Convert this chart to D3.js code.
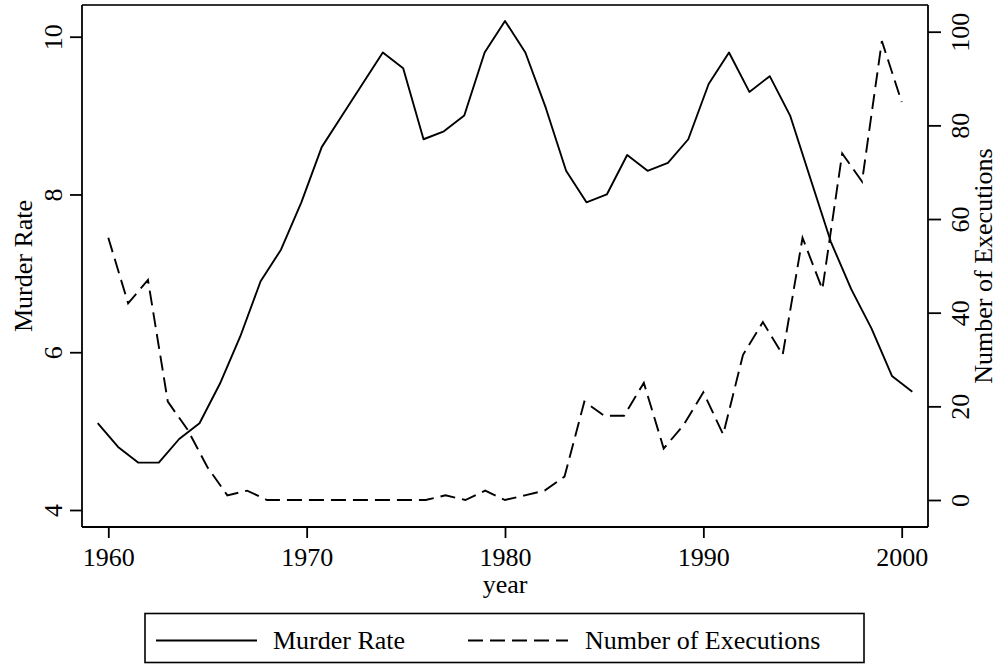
<!DOCTYPE html>
<html>
<head>
    <meta charset="utf-8">
    <title>Murder Rate and Executions</title>
    <style>
        body { margin: 0; background: #fff; }
        text { font-family: "Liberation Serif", "Times New Roman", serif; fill: #000; }
        .axis path, .axis line { stroke: #000; stroke-width: 1.8; }
    </style>
    <script src="https://cdn.jsdelivr.net/npm/d3@7"></script>
</head>
<body>
<script>
    // data
    var years = d3.range(1960, 2001);
    var murderRate = [5.1, 4.8, 4.6, 4.6, 4.9, 5.1, 5.6, 6.2, 6.9, 7.3,
        7.9, 8.6, 9.0, 9.4, 9.8, 9.6, 8.7, 8.8, 9.0, 9.8,
        10.2, 9.8, 9.1, 8.3, 7.9, 8.0, 8.5, 8.3, 8.4, 8.7,
        9.4, 9.8, 9.3, 9.5, 9.0, 8.2, 7.4, 6.8, 6.3, 5.7, 5.5];
    var executions = [56, 42, 47, 21, 15, 7, 1, 2, 0, 0,
        0, 0, 0, 0, 0, 0, 0, 1, 0, 2,
        0, 1, 2, 5, 21, 18, 18, 25, 11, 16,
        23, 14, 31, 38, 31, 56, 45, 74, 68, 98, 85];
    var xTicks = [1960, 1970, 1980, 1990, 2000];
    var leftTicks = [4, 6, 8, 10];
    var rightTicks = [0, 20, 40, 60, 80, 100];

    var W = 1003, H = 664, fs = 26;
    var plot = { left: 82, right: 928, top: 5, bottom: 527 };

    var svg = d3.select("body").append("svg")
        .attr("width", W)
        .attr("height", H);

    // scales (the murder series sits on its own, slightly wider x scale)
    var x = d3.scaleLinear().domain([1960, 2000]).range([108.3, 901.7]);
    var x2 = d3.scaleLinear().domain([1960, 2000]).range([97.7, 912.3]);
    var yL = d3.scaleLinear().domain([4, 10]).range([510, 36.7]);
    var yR = d3.scaleLinear().domain([0, 100]).range([500, 31.7]);

    // top border of plot region
    svg.append("line")
        .attr("x1", plot.left).attr("x2", plot.right)
        .attr("y1", plot.top).attr("y2", plot.top)
        .attr("stroke", "#333").attr("stroke-width", 1.8);

    // lines
    var murderLine = d3.line()
        .x(function(d, i) { return x2(years[i]); })
        .y(function(d) { return yL(d); });
    var execLine = d3.line()
        .x(function(d, i) { return x(years[i]); })
        .y(function(d) { return yR(d); });

    svg.append("path")
        .datum(murderRate)
        .attr("d", murderLine)
        .attr("fill", "none")
        .attr("stroke", "#000")
        .attr("stroke-width", 1.9)
        .attr("stroke-linejoin", "round");

    svg.append("path")
        .datum(executions)
        .attr("d", execLine)
        .attr("fill", "none")
        .attr("stroke", "#000")
        .attr("stroke-width", 1.9)
        .attr("stroke-dasharray", "15,7");

    // bottom axis
    var gx = svg.append("g")
        .attr("class", "axis")
        .attr("transform", "translate(0," + plot.bottom + ")")
        .call(d3.axisBottom(x).tickValues(xTicks).tickSize(11).tickPadding(10).tickFormat(d3.format("d")));
    gx.select(".domain").attr("d", "M" + plot.left + ",0H" + plot.right);
    gx.selectAll("text").style("font-size", fs + "px").attr("dy", "0.71em");

    // left axis
    var gl = svg.append("g")
        .attr("class", "axis")
        .attr("transform", "translate(" + plot.left + ",0)")
        .call(d3.axisLeft(yL).tickValues(leftTicks).tickSize(12).tickFormat(d3.format("d")));
    gl.select(".domain").attr("d", "M0," + plot.top + "V" + plot.bottom);
    gl.selectAll("text")
        .style("font-size", fs + "px")
        .attr("transform", "rotate(-90)")
        .attr("x", 0).attr("y", -20).attr("dy", 0)
        .attr("text-anchor", "middle");

    // right axis
    var gr = svg.append("g")
        .attr("class", "axis")
        .attr("transform", "translate(" + plot.right + ",0)")
        .call(d3.axisRight(yR).tickValues(rightTicks).tickSize(13).tickFormat(d3.format("d")));
    gr.select(".domain").attr("d", "M0," + plot.top + "V" + plot.bottom);
    gr.selectAll("text")
        .style("font-size", fs + "px")
        .attr("transform", "rotate(-90)")
        .attr("x", 0).attr("y", 41).attr("dy", 0)
        .attr("text-anchor", "middle");

    // axis titles
    var midY = (plot.top + plot.bottom) / 2;
    svg.append("text")
        .attr("transform", "translate(31.5," + midY + ") rotate(-90)")
        .attr("text-anchor", "middle")
        .style("font-size", fs + "px")
        .text("Murder Rate");
    svg.append("text")
        .attr("transform", "translate(991.5," + midY + ") rotate(-90)")
        .attr("text-anchor", "middle")
        .style("font-size", fs + "px")
        .text("Number of Executions");
    svg.append("text")
        .attr("x", (plot.left + plot.right) / 2)
        .attr("y", 593)
        .attr("text-anchor", "middle")
        .style("font-size", fs + "px")
        .text("year");

    // legend
    var legend = svg.append("g");
    legend.append("rect")
        .attr("x", 145).attr("y", 613.5)
        .attr("width", 719).attr("height", 49)
        .attr("fill", "#fff").attr("stroke", "#000").attr("stroke-width", 1.6);
    var ly = 640.5;
    legend.append("line")
        .attr("x1", 156).attr("x2", 257).attr("y1", ly).attr("y2", ly)
        .attr("stroke", "#000").attr("stroke-width", 1.9);
    legend.append("text")
        .attr("x", 273).attr("y", ly + 8.5)
        .style("font-size", fs + "px")
        .text("Murder Rate");
    legend.append("line")
        .attr("x1", 468).attr("x2", 568).attr("y1", ly).attr("y2", ly)
        .attr("stroke", "#000").attr("stroke-width", 1.9)
        .attr("stroke-dasharray", "15,7");
    legend.append("text")
        .attr("x", 585).attr("y", ly + 8.5)
        .style("font-size", fs + "px")
        .text("Number of Executions");
</script>
</body>
</html>
